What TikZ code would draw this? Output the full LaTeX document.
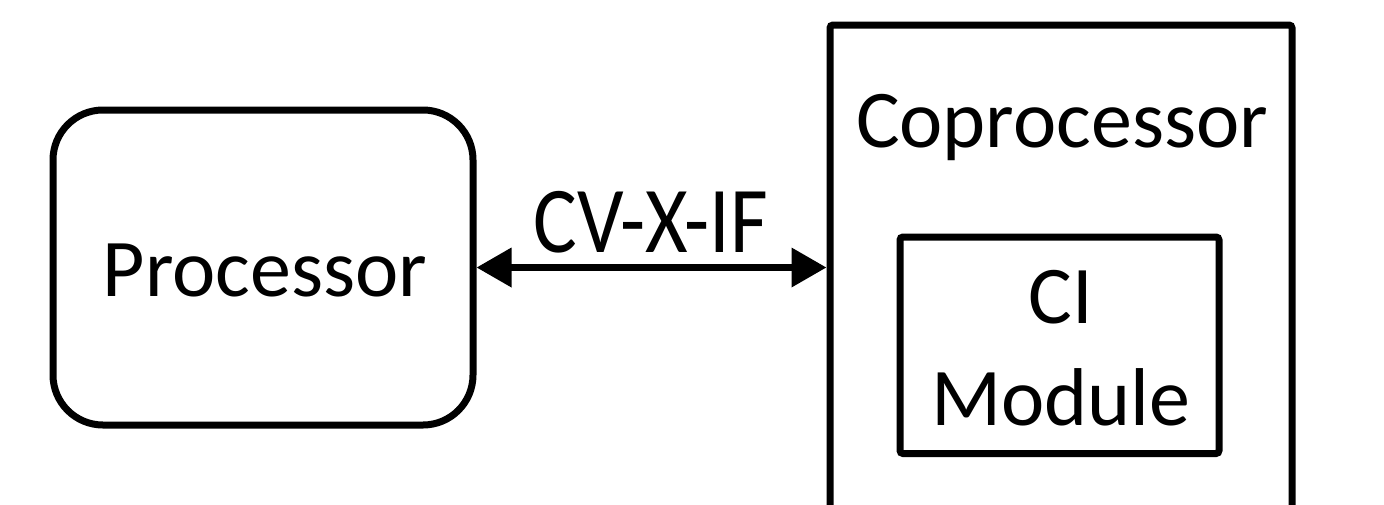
\documentclass[tikz,border=0pt]{standalone}
\usepackage{fontspec}
\setmainfont{Carlito}
\usetikzlibrary{arrows.meta}
\begin{document}
\begin{tikzpicture}[x=1pt,y=-1pt,
  box/.style={draw=black,line width=7pt,inner sep=0pt,outer sep=3.5pt},
  lbl/.style={font=\fontsize{82}{102}\selectfont,inner sep=0pt,anchor=base},
  link/.style={line width=7pt,{Triangle[length=35pt,width=38pt]}-{Triangle[length=35pt,width=38pt]}}]
\useasboundingbox (0,0) rectangle (1384,504);
\clip (0,0) rectangle (1384,504);
\node[box,rounded corners=50pt,minimum width=420pt,minimum height=315pt] (proc) at (263,267.5) {};
\node[lbl] (proctxt) at (265,296) {Processor};
\node[box,rounded corners=3pt,minimum width=462pt,minimum height=533pt] (cop) at (1061,291.5) {};
\node[lbl] (coptxt) at (1062,147) {Coprocessor};
\node[box,rounded corners=3pt,minimum width=319pt,minimum height=216.5pt] (ci) at (1059.5,345.25) {};
\node[lbl] (citxt1) at (1061,323) {CI};
\node[lbl] (citxt2) at (1061,425) {Module};
\coordinate (tgt) at (proc.east -| cop.west);
\draw[link] (proc.east) -- (tgt);
\node[lbl] (iflbl) at (651,252) {\scalebox{1}[1.15]{CV-X-IF}};
\end{tikzpicture}
\end{document}
